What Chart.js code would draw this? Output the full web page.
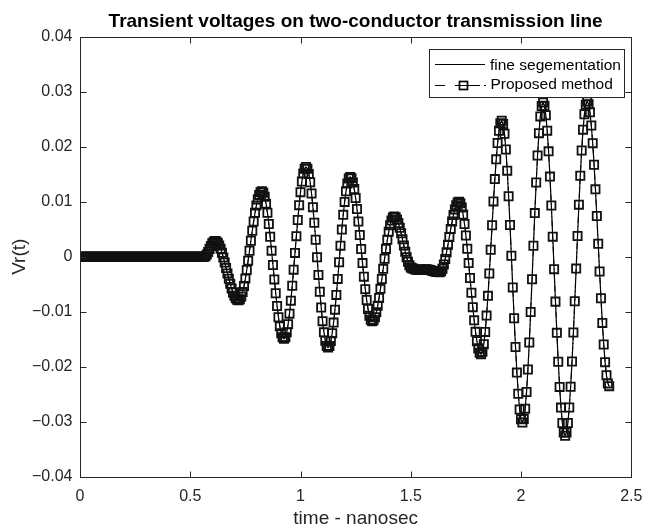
<!DOCTYPE html>
<html>
<head>
<meta charset="utf-8">
<title>Transient voltages on two-conductor transmission line</title>
<script src="https://cdn.jsdelivr.net/npm/chart.js@4.4.1/dist/chart.umd.min.js"></script>
<style>
  html, body { margin: 0; padding: 0; background: #fff; }
  #chartCanvas { display: block; }
</style>
</head>
<body>
<canvas id="chartCanvas" width="652" height="527"></canvas>
<script>
// Chart texts
const chartTitle = 'Transient voltages on two-conductor transmission line';
const xTitle = 'time - nanosec';
const yTitle = 'Vr(t)';
const seriesNames = ['fine segementation', 'Proposed method'];

// Axis ranges and tick steps (ns / volts)
const xRange = [0, 2.5];
const xStep = 0.5;
const yRange = [-0.04, 0.04];
const yStep = 0.01;

// Samples are taken every 0.00625 ns from 0 to 2.4 ns
const sampleStep = 0.00625;

// Vr(t), one value per sample
const vrFine = [
  0, 0, 0, 0, 0, 0, 0, 0, 0, 0, 0, 0, 0,
  0, 0, 0, 0, 0, 0, 0, 0, 0, 0, 0, 0, 0,
  0, 0, 0, 0, 0, 0, 0, 0, 0, 0, 0, 0, 0,
  0, 0, 0, 0, 0, 0, 0, 0, 0, 0, 0, 0, 0,
  0, 0, 0, 0, 0, 0, 0, 0, 0, 0, 0, 0, 0,
  0, 0, 0, 0, 0, 0, 0, 0, 0, 0, 0, 0, 0,
  0, 0, 0, 0, 0, 0, 0, 0, 0, 0, 0, 0, 0,
  // small bump near 0.6 ns
  0.00011, 0.00042, 0.00088, 0.00143, 0.00197, 0.00243, 0.00274, 0.00285,
  0.00276, 0.00249, 0.00204, 0.00145, 0.00072, -0.00013, -0.00105, -0.00203, -0.00302,
  -0.00400, -0.00492, -0.00577, -0.00650, -0.00709, -0.00754, -0.00781, -0.00790,
  -0.00773, -0.00723, -0.00642, -0.00532, -0.00397, -0.00241, -0.00071, 0.00109, 0.00291,
  0.00471, 0.00641, 0.00797, 0.00932, 0.01042, 0.01123, 0.01173, 0.01190,
  0.01164, 0.01088, 0.00964, 0.00798, 0.00595, 0.00363, 0.00111, -0.00150,
  -0.00411, -0.00663, -0.00895, -0.01098, -0.01264, -0.01388, -0.01464, -0.01490,
  -0.01460, -0.01371, -0.01227, -0.01033, -0.00797, -0.00527, -0.00234, 0.00070,
  0.00374, 0.00667, 0.00937, 0.01173, 0.01367, 0.01511, 0.01600, 0.01630,
  0.01599, 0.01505, 0.01353, 0.01150, 0.00901, 0.00617, 0.00310, -0.00010,
  -0.00330, -0.00637, -0.00921, -0.01170, -0.01373, -0.01525, -0.01619, -0.01650,
  -0.01620, -0.01532, -0.01389, -0.01196, -0.00961, -0.00693, -0.00402, -0.00100,
  0.00202, 0.00493, 0.00761, 0.00996, 0.01189, 0.01332, 0.01420, 0.01450,
  0.01425, 0.01350, 0.01229, 0.01066, 0.00868, 0.00641, 0.00395, 0.00140,
  -0.00115, -0.00361, -0.00588, -0.00786, -0.00949, -0.01070, -0.01145, -0.01170,
  -0.01152, -0.01098, -0.01010, -0.00892, -0.00748, -0.00583, -0.00405, -0.00220,
  -0.00035, 0.00143, 0.00308, 0.00452, 0.00570, 0.00658, 0.00712, 0.00730,
  0.00716, 0.00676, 0.00612, 0.00527, 0.00427, 0.00317, 0.00203, 0.00093,
  -0.00007, -0.00092, -0.00156, -0.00196, -0.00210,
  // flat part around 1.55 ns
  -0.00220, -0.00228, -0.00234, -0.00238, -0.00240, -0.00240, -0.00238, -0.00234, -0.00230, -0.00229,
  -0.00230, -0.00235, -0.00242, -0.00250, -0.00258, -0.00265, -0.00271, -0.00276, -0.00279, -0.00280,
  -0.00264, -0.00217, -0.00140, -0.00039, 0.00082, 0.00218, 0.00360, 0.00502,
  0.00638, 0.00759, 0.00860, 0.00937, 0.00984, 0.01000,
  0.00973, 0.00894, 0.00766, 0.00594, 0.00385, 0.00145, -0.00115, -0.00385,
  -0.00655, -0.00915, -0.01155, -0.01364, -0.01536, -0.01664, -0.01743, -0.01770,
  -0.01724, -0.01587, -0.01365, -0.01069, -0.00710, -0.00305, 0.00128, 0.00572,
  0.01005, 0.01410, 0.01769, 0.02065, 0.02287, 0.02424, 0.02470,
  0.02410, 0.02233, 0.01947, 0.01564, 0.01100, 0.00577, 0.00017, -0.00557,
  -0.01117, -0.01640, -0.02104, -0.02487, -0.02773, -0.02950, -0.03010,
  -0.02947, -0.02759, -0.02455, -0.02049, -0.01557, -0.01003, -0.00409, 0.00199,
  0.00793, 0.01348, 0.01839, 0.02245, 0.02549, 0.02737, 0.02800,
  0.02742, 0.02569, 0.02290, 0.01914, 0.01456, 0.00932, 0.00365, -0.00225,
  -0.00815, -0.01382, -0.01906, -0.02364, -0.02740, -0.03020, -0.03192, -0.03250,
  -0.03192, -0.03019, -0.02738, -0.02361, -0.01901, -0.01376, -0.00807, -0.00215,
  0.00377, 0.00946, 0.01471, 0.01931, 0.02308, 0.02589, 0.02762, 0.02820,
  0.02770, 0.02623, 0.02384, 0.02063, 0.01671, 0.01224, 0.00739, 0.00235,
  -0.00269, -0.00754, -0.01201, -0.01593, -0.01914, -0.02153, -0.02300, -0.02350
];

// The proposed method lies on top of the fine segmentation curve
const vrProposed = vrFine;

// Time of each sample
const timeNs = vrFine.map((v, i) => i * sampleStep);

const fontFamily = "'Liberation Sans', Arial, Helvetica, sans-serif";
const axisColor = '#262626';

// Helper to format tick labels like MATLAB (true minus sign)
function tickLabel(value, decimals) {
  if (Math.abs(value) < 1e-9) return '0';
  const s = decimals === null ? String(+value.toFixed(4)) : value.toFixed(decimals);
  return s.replace('-', '\u2212');
}

// Draws the axes box with inward ticks on all four sides
const axesBox = {
  id: 'axesBox',
  afterDatasetsDraw(chart) {
    const { ctx, chartArea, scales } = chart;
    const left = Math.round(chartArea.left) + 0.5;
    const right = Math.round(chartArea.right) + 0.5;
    const top = Math.round(chartArea.top) + 0.5;
    const bottom = Math.round(chartArea.bottom) + 0.5;
    const tickLen = 6;

    ctx.save();
    ctx.strokeStyle = axisColor;
    ctx.lineWidth = 1;
    ctx.beginPath();
    ctx.rect(left, top, right - left, bottom - top);

    scales.x.ticks.forEach(t => {
      const px = Math.round(scales.x.getPixelForValue(t.value)) + 0.5;
      ctx.moveTo(px, bottom); ctx.lineTo(px, bottom - tickLen);
      ctx.moveTo(px, top); ctx.lineTo(px, top + tickLen);
    });
    scales.y.ticks.forEach(t => {
      const py = Math.round(scales.y.getPixelForValue(t.value)) + 0.5;
      ctx.moveTo(left, py); ctx.lineTo(left + tickLen, py);
      ctx.moveTo(right, py); ctx.lineTo(right - tickLen, py);
    });
    ctx.stroke();
    ctx.restore();
  }
};

// MATLAB style legend box in the upper right corner
const boxLegend = {
  id: 'boxLegend',
  afterDraw(chart) {
    const { ctx } = chart;
    const names = chart.data.datasets.map(d => d.label);
    const x0 = 429.5, y0 = 49.5, w = 195, h = 48;

    ctx.save();
    ctx.fillStyle = '#fff';
    ctx.fillRect(x0, y0, w, h);
    ctx.strokeStyle = axisColor;
    ctx.lineWidth = 1;
    ctx.strokeRect(x0, y0, w, h);

    // fine segmentation: plain line
    ctx.strokeStyle = '#000';
    ctx.beginPath();
    ctx.moveTo(435, 64.5); ctx.lineTo(485, 64.5);
    ctx.stroke();

    // proposed method: dash dot line with a square marker
    ctx.beginPath();
    ctx.moveTo(435, 85.5); ctx.lineTo(445, 85.5);
    ctx.moveTo(455, 85.5); ctx.lineTo(480, 85.5);
    ctx.moveTo(484, 85.5); ctx.lineTo(486, 85.5);
    ctx.stroke();
    ctx.lineWidth = 1.7;
    ctx.strokeRect(459.5, 81.5, 8, 8);

    ctx.fillStyle = '#000';
    ctx.font = '15.5px ' + fontFamily;
    ctx.textAlign = 'left';
    ctx.textBaseline = 'middle';
    ctx.fillText(names[1], 490, 65.3);
    ctx.fillText(names[0], 490.5, 84.5);
    ctx.restore();
  }
};

const chartConfig = {
  type: 'line',
  data: {
    labels: timeNs,
    datasets: [
      {
        label: seriesNames[1],
        data: vrProposed,
        borderColor: '#000',
        borderWidth: 1,
        borderDash: [6, 3, 1, 3],
        pointStyle: 'rect',
        pointRadius: 5.8,
        pointBorderWidth: 1.8,
        pointBorderColor: '#111',
        pointBackgroundColor: 'rgba(255,255,255,0)',
        tension: 0,
        fill: false
      },
      {
        label: seriesNames[0],
        data: vrFine,
        borderColor: '#000',
        borderWidth: 1.2,
        pointRadius: 0,
        tension: 0,
        fill: false
      }
    ]
  },
  options: {
    responsive: false,
    animation: false,
    devicePixelRatio: 1,
    events: [],
    layout: { padding: { left: 0, right: 12, top: 0, bottom: 0 } },
    plugins: {
      legend: { display: false },
      tooltip: { enabled: false },
      title: {
        display: true,
        text: chartTitle,
        fullSize: false,
        color: '#000',
        font: { family: fontFamily, size: 19, weight: 'bold', lineHeight: 1.2 },
        padding: { top: 10, bottom: 3.7 }
      }
    },
    scales: {
      x: {
        type: 'linear',
        position: 'bottom',
        min: xRange[0],
        max: xRange[1],
        grid: { display: false, drawTicks: false },
        border: { display: false },
        ticks: {
          stepSize: xStep,
          autoSkip: false,
          maxRotation: 0,
          padding: 9.6,
          color: axisColor,
          font: { family: fontFamily, size: 16 },
          callback: v => tickLabel(v, null)
        },
        title: {
          display: true,
          text: xTitle,
          color: axisColor,
          font: { family: fontFamily, size: 19, lineHeight: 0.9 },
          padding: 0
        },
        afterFit: scale => { scale.height = 50; }
      },
      y: {
        type: 'linear',
        position: 'left',
        min: yRange[0],
        max: yRange[1],
        grid: { display: false, drawTicks: false },
        border: { display: false },
        ticks: {
          stepSize: yStep,
          autoSkip: false,
          padding: 7.5,
          color: axisColor,
          font: { family: fontFamily, size: 16 },
          callback: v => tickLabel(v, 2)
        },
        title: {
          display: true,
          text: yTitle,
          color: axisColor,
          font: { family: fontFamily, size: 19, lineHeight: 1.2 },
          padding: { top: 8.7, bottom: 0 }
        },
        afterFit: scale => { scale.width = 80; }
      }
    }
  },
  plugins: [axesBox, boxLegend]
};

const chartCanvas = document.getElementById('chartCanvas');
const transientChart = new Chart(chartCanvas.getContext('2d'), chartConfig);
</script>
</body>
</html>
